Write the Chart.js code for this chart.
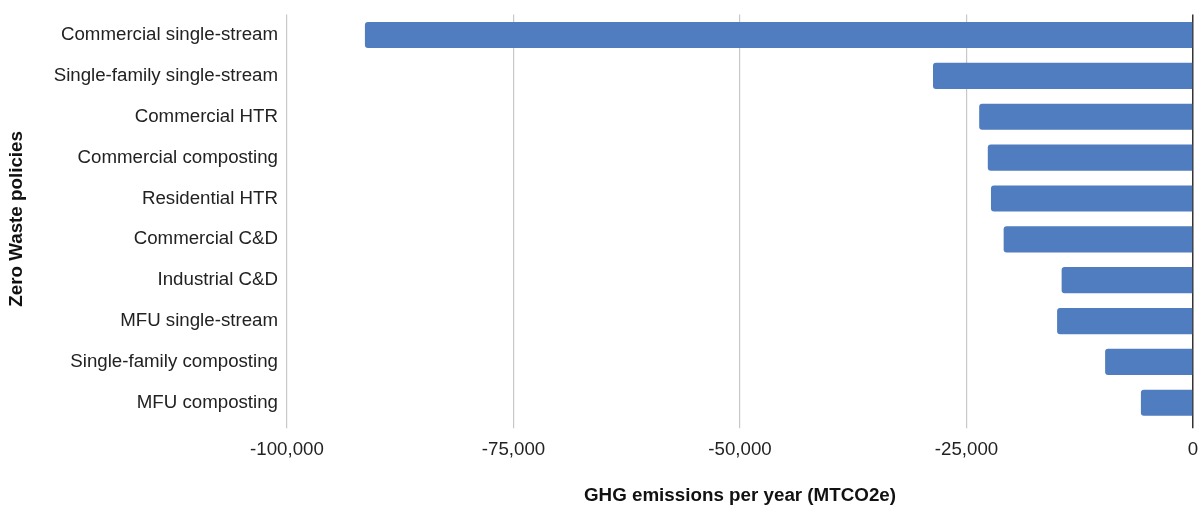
<!DOCTYPE html>
<html>
<head>
<meta charset="utf-8">
<title>Zero Waste policies</title>
<script src="https://cdn.jsdelivr.net/npm/chart.js"></script>
<style>
  * { margin: 0; padding: 0; box-sizing: border-box; }
  html, body { background: #fff; width: 1199px; height: 508px; overflow: hidden; }
  #wrap { position: relative; width: 1199px; height: 508px; }
</style>
</head>
<body>
<div id="wrap"><canvas id="chart"></canvas></div>
<script>
const policies = [
  'Commercial single-stream',
  'Single-family single-stream',
  'Commercial HTR',
  'Commercial composting',
  'Residential HTR',
  'Commercial C&D',
  'Industrial C&D',
  'MFU single-stream',
  'Single-family composting',
  'MFU composting'
];
const emissions = [-91400, -28700, -23600, -22650, -22300, -20900, -14500, -15000, -9700, -5750];
const xTicks = [-100000, -75000, -50000, -25000, 0];

const font = 'Liberation Sans, Arial, Helvetica, sans-serif';
const plotBottom = 423.2, plotLeft = 287;

new Chart(document.getElementById('chart'), {
  type: 'bar',
  data: {
    labels: policies,
    datasets: [{
      label: 'GHG emissions per year (MTCO2e)',
      data: emissions,
      backgroundColor: '#507dbf',
      borderRadius: 3,
      barPercentage: 0.64,
      categoryPercentage: 1
    }]
  },
  options: {
    indexAxis: 'y',
    responsive: true,
    maintainAspectRatio: false,
    animation: false,
    layout: { padding: { top: 14.6, right: 6, left: 6, bottom: 0 } },
    plugins: { legend: { display: false }, tooltip: { enabled: false } },
    scales: {
      x: {
        min: -100000,
        max: 0,
        afterBuildTicks: s => { s.ticks = xTicks.map(v => ({ value: v })); },
        ticks: {
          color: '#222',
          font: { family: font, size: 18.7 },
          padding: 10,
          callback: v => v.toLocaleString('en-US')
        },
        grid: {
          color: c => c.tick && c.tick.value === 0 ? '#333' : '#c8c8c8',
          lineWidth: c => c.tick && c.tick.value === 0 ? 1.5 : 1.2,
          tickLength: 5,
          drawTicks: true
        },
        border: { display: false },
        title: {
          display: true,
          text: 'GHG emissions per year (MTCO2e)',
          color: '#111',
          font: { family: font, size: 18.8, weight: 'bold' },
          padding: { top: 0, bottom: 1 }
        },
        afterFit: s => { s.height = 508 - plotBottom; s.paddingLeft = 0; s.paddingRight = 0; }
      },
      y: {
        ticks: {
          color: '#222',
          font: { family: font, size: 18.7 },
          padding: 1
        },
        grid: { display: false },
        border: { display: false },
        title: {
          display: true,
          text: 'Zero Waste policies',
          color: '#111',
          font: { family: font, size: 18.8, weight: 'bold' },
          padding: { top: 0, bottom: 0 }
        },
        afterFit: s => { s.width = plotLeft - 6; s.paddingTop = 0; s.paddingBottom = 0; }
      }
    }
  }
});
</script>
</body>
</html>
